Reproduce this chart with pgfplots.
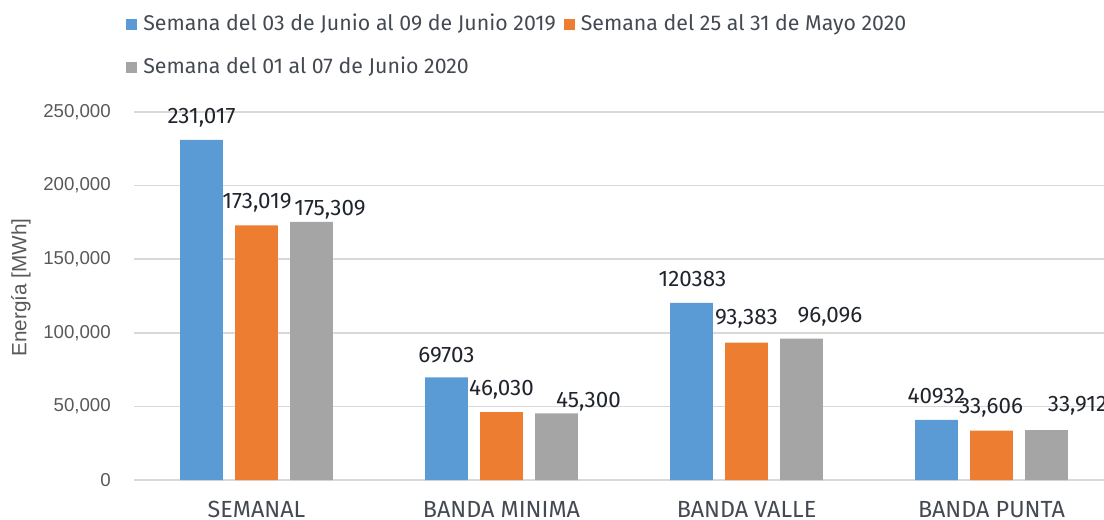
\documentclass[border=0pt]{standalone}
\usepackage{pgfplots}
\pgfplotsset{compat=1.18}
\usepackage{pgfplotstable}
\usepackage{fontspec}
\setmainfont{Fira Sans}
\newfontfamily\tickfont{Liberation Sans}
\definecolor{cblue}{HTML}{5B9BD5}
\definecolor{corange}{HTML}{ED7D31}
\definecolor{cgray}{HTML}{A5A5A5}
\definecolor{gridc}{HTML}{D9D9D9}
\definecolor{tickc}{HTML}{595959}
\definecolor{legc}{HTML}{454A52}
\definecolor{labc}{HTML}{20252D}

% dx, dy: label offsets from the bar top centre, in pixels
\pgfplotstableread{
x val lbl dx dy
0 231017 231,017 0 24
1 69703 69703 0 23
2 120383 120383 1 23.5
3 40932 40932 0 24
}\sA
\pgfplotstableread{
x val lbl dx dy
0 173019 173,019 0.5 24
1 46030 46,030 0 24
2 93383 93,383 0 26
3 33606 33,606 -0.5 24.5
}\sB
\pgfplotstableread{
x val lbl dx dy
0 175309 175,309 18.5 14
1 45300 45,300 32 13.5
2 96096 96,096 28.5 24
3 33912 33,912 31 26
}\sC

\pgfplotsset{
  mybar/.style={ybar, bar width=31.9pt, draw=none},
  barlbl/.style={
    forget plot, draw=none, mark=none,
    point meta=explicit symbolic,
    nodes near coords,
    every node near coord/.append style={anchor=center, inner sep=0pt, text depth=0pt, font=\fontsize{16.8}{19}\selectfont, text=labc},
  },
}

\begin{document}
\begin{tikzpicture}
\path[use as bounding box] (0,0) rectangle (828pt,389.25pt);
\begin{axis}[
  at={(100.5pt,29.25pt)}, anchor=south west,
  scale only axis, width=735pt, height=276pt,
  xmin=-0.5, xmax=3.5, ymin=0, ymax=250000,
  clip=false,
  xtick={0,1,2,3},
  xticklabels={SEMANAL,BANDA MINIMA,BANDA VALLE,BANDA PUNTA},
  xticklabel style={font=\fontsize{17.5}{20}\selectfont, text=legc, anchor=north, inner sep=0pt, yshift=-15.5pt},
  ytick={0,50000,100000,150000,200000,250000},
  scaled y ticks=false,
  /pgf/number format/fixed,
  /pgf/number format/1000 sep={,},
  /pgf/number format/assume math mode=true,
  yticklabel style={font=\tickfont\fontsize{14}{16}\selectfont, text=tickc, anchor=east, inner sep=0pt, xshift=-17.25pt},
  ymajorgrids, major grid style={gridc, line width=1.2pt},
  axis line style={draw=none}, major tick length=0pt,
  ylabel={Energía [MWh]},
  every axis y label/.style={at={(axis description cs:-0.1153,0.523)}, rotate=90, anchor=center, inner sep=0pt, font=\tickfont\fontsize{15.5}{18}\selectfont, text=tickc},
  legend columns=2,
  legend cell align=left,
  legend style={at={(axis description cs:-0.00816,1.265)}, anchor=north west, draw=none, fill=none, inner sep=0pt,
    font=\fontsize{16}{19}\selectfont, text=legc,
    nodes={inner sep=0pt, text height=11.5pt, text depth=3pt},
    /tikz/every odd column/.append style={column sep=4.5pt},
    /tikz/every even column/.append style={column sep=6pt},
    row sep=18pt},
  legend image code/.code={\fill[#1] (0pt,-4.125pt) rectangle (8.25pt,4.125pt);},
]
\addplot[mybar, bar shift=-41.25pt, fill=cblue] table[x=x, y=val] {\sA};
\addplot[mybar, bar shift=0pt, fill=corange] table[x=x, y=val] {\sB};
\addplot[mybar, bar shift=41.25pt, fill=cgray] table[x=x, y=val] {\sC};
\addplot[barlbl] table[x expr=\thisrow{x}-0.22449+\thisrow{dx}/245, y expr=\thisrow{val}+679.35*\thisrow{dy}, meta=lbl] {\sA};
\addplot[barlbl] table[x expr=\thisrow{x}+\thisrow{dx}/245, y expr=\thisrow{val}+679.35*\thisrow{dy}, meta=lbl] {\sB};
\addplot[barlbl] table[x expr=\thisrow{x}+0.22449+\thisrow{dx}/245, y expr=\thisrow{val}+679.35*\thisrow{dy}, meta=lbl] {\sC};
\legend{Semana del 03 de Junio al 09 de Junio 2019, Semana del 25 al 31 de Mayo 2020, Semana del 01 al 07 de Junio 2020}
\end{axis}
\end{tikzpicture}
\end{document}
